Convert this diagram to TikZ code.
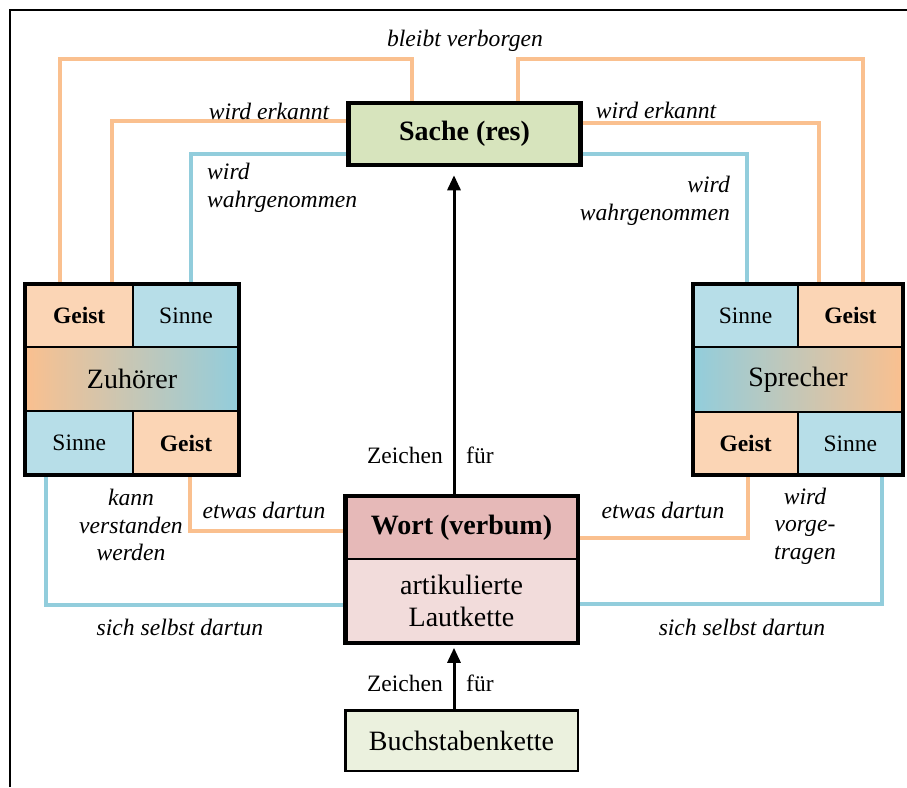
\documentclass[tikz,border=0pt]{standalone}
\usepackage{fontspec}
\setmainfont{Liberation Serif}
\usetikzlibrary{arrows.meta}
\definecolor{lineorange}{HTML}{FAC08F}
\definecolor{lineblue}{HTML}{92CDDC}
\definecolor{geistfill}{HTML}{FBD5B5}
\definecolor{sinnefill}{HTML}{B7DEE8}
\definecolor{sachefill}{HTML}{D7E4BD}
\definecolor{wortfill}{HTML}{E6B9B8}
\definecolor{lautfill}{HTML}{F2DCDB}
\definecolor{buchfill}{HTML}{EBF1DE}
\pgfdeclarelayer{background}
\pgfsetlayers{background,main}
\tikzset{
  small/.style={font=\fontsize{23.5}{27}\selectfont},
  big/.style={font=\fontsize{28}{32}\selectfont},
  lbl/.style={font=\fontsize{23.6}{27.5}\selectfont\itshape, inner sep=0pt, align=center},
  cell/.style={draw, line width=2pt, inner sep=0pt, outer sep=0pt, align=center},
  geistcell/.style={cell, fill=geistfill, font=\fontsize{23.5}{27}\selectfont\bfseries},
  sinnecell/.style={cell, fill=sinnefill, small},
  heavybox/.style={draw, line width=4.5pt},
  orangeline/.style={draw=lineorange, line width=4pt},
  blueline/.style={draw=lineblue, line width=4pt},
  arrowline/.style={line width=3pt, -{Triangle[width=13pt,length=15pt]}}
}
\begin{document}
\begin{tikzpicture}[x=1pt,y=-1pt]
\useasboundingbox (0,0) rectangle (907,787);
\draw[line width=1.2pt] (10,787) -- (10,10) -- (907,10);

% Sache
\node[heavybox, fill=sachefill, minimum width=232pt, minimum height=62pt,
  font=\fontsize{28}{32}\selectfont\bfseries] (sache) at (464.5,134) {Sache (res)};

% Zuhoerer
\node[geistcell, minimum width=108pt, minimum height=63pt] (zgeist) at (79.2,315.6) {Geist};
\node[sinnecell, minimum width=106pt, minimum height=63pt] (zsinne) at (186,315.6) {Sinne};
\node[cell, big, left color=lineorange, right color=lineblue, minimum width=214pt, minimum height=64pt] (zuhoerer) at (132,379) {Zuhörer};
\node[sinnecell, minimum width=108pt, minimum height=64pt] (zsinneb) at (79.2,443) {Sinne};
\node[geistcell, minimum width=106pt, minimum height=64pt] (zgeistb) at (186,443) {Geist};
\draw[heavybox] (zgeist.north west) rectangle (zgeistb.south east);

% Sprecher
\node[sinnecell, minimum width=105pt, minimum height=63pt] (ssinne) at (745.6,315.6) {Sinne};
\node[geistcell, minimum width=105pt, minimum height=63pt] (sgeist) at (850.4,315.6) {Geist};
\node[cell, big, left color=lineblue, right color=lineorange, minimum width=210pt, minimum height=65pt] (sprecher) at (798,379.5) {Sprecher};
\node[geistcell, minimum width=105pt, minimum height=63pt] (sgeistb) at (745.6,443.5) {Geist};
\node[sinnecell, minimum width=105pt, minimum height=63pt] (ssinneb) at (850.4,443.5) {Sinne};
\draw[heavybox] (ssinne.north west) rectangle (ssinneb.south east);

% Wort
\node[cell, fill=wortfill, minimum width=232.5pt, minimum height=62.8pt,
  font=\fontsize{28}{32}\selectfont\bfseries] (wort) at (461.5,527.6) {Wort (verbum)};
\node[cell, big, fill=lautfill, minimum width=232.5pt, minimum height=83.8pt] (laut) at (461.5,600.9) {artikulierte\\Lautkette};
\draw[heavybox] (wort.north west) rectangle (laut.south east);

% Buchstabenkette
\node[draw, line width=2.5pt, fill=buchfill, big, minimum width=232.5pt, minimum height=60.5pt] (buch) at (461.5,740.5) {Buchstabenkette};

% Pfeile
\draw[arrowline, shorten >=8pt] ([xshift=-7.5pt]wort.north) -- ([xshift=-10.5pt]sache.south);
\draw[arrowline, shorten >=5pt] ([xshift=-7.5pt]buch.north) -- ([xshift=-7.5pt]laut.south);
\node[small, anchor=east, inner sep=0pt] (zeichen1) at (443,455) {Zeichen};
\node[small, anchor=west, inner sep=0pt] (fuer1) at (466,455) {für};
\node[small, anchor=east, inner sep=0pt] (zeichen2) at (443,683) {Zeichen};
\node[small, anchor=west, inner sep=0pt] (fuer2) at (466,683) {für};

% Verbindungen
\begin{pgfonlayer}{background}
\draw[orangeline] ([xshift=-19pt]zgeist.center) |- ([xshift=-52.5pt,yshift=75pt]sache.center) -- ([xshift=-52.5pt]sache.center);
\draw[orangeline] ([xshift=33pt]zgeist.center) |- ([yshift=13pt]sache.center);
\draw[blueline] ([xshift=5pt]zsinne.center) |- ([yshift=-20pt]sache.center);
\draw[orangeline] ([xshift=53.5pt]sache.center) -- ([xshift=53.5pt,yshift=75pt]sache.center) -| ([xshift=12.5pt]sgeist.center);
\draw[orangeline] ([yshift=11pt]sache.center) -| ([xshift=-31.5pt]sgeist.center);
\draw[blueline] ([yshift=-20pt]sache.center) -| ([xshift=1.5pt]ssinne.center);
\draw[blueline] ([xshift=-33pt]zsinneb.center) |- ([yshift=-4pt]laut.center);
\draw[orangeline] ([xshift=4pt]zgeistb.center) |- ([yshift=-3.5pt]wort.center);
\draw[orangeline] ([yshift=-10.5pt]wort.center) -| ([xshift=2.5pt]sgeistb.center);
\draw[blueline] ([yshift=-3pt]laut.center) -| ([xshift=31.5pt]ssinneb.center);
\end{pgfonlayer}

% Beschriftungen
\node[lbl] (verborgen) at (465,41) {bleibt verborgen};
\node[lbl] (erkanntL) at (269,111) {wird erkannt};
\node[lbl] (erkanntR) at (656,110) {wird erkannt};
\node[lbl, align=left, anchor=west] (wahrL) at (207,188) {wird\\wahrgenommen};
\node[lbl, align=right, anchor=east] (wahrR) at (730,201) {wird\\wahrgenommen};
\node[lbl] (verstanden) at (131,525) {kann\\verstanden\\werden};
\node[lbl] (dartunL) at (264,510) {etwas dartun};
\node[lbl] (dartunR) at (663,510) {etwas dartun};
\node[lbl] (vorgetragen) at (805,526) {wird\\vorge-\\tragen};
\node[lbl] (selbstL) at (180,627) {sich selbst dartun};
\node[lbl] (selbstR) at (742,627) {sich selbst dartun};
\end{tikzpicture}
\end{document}
